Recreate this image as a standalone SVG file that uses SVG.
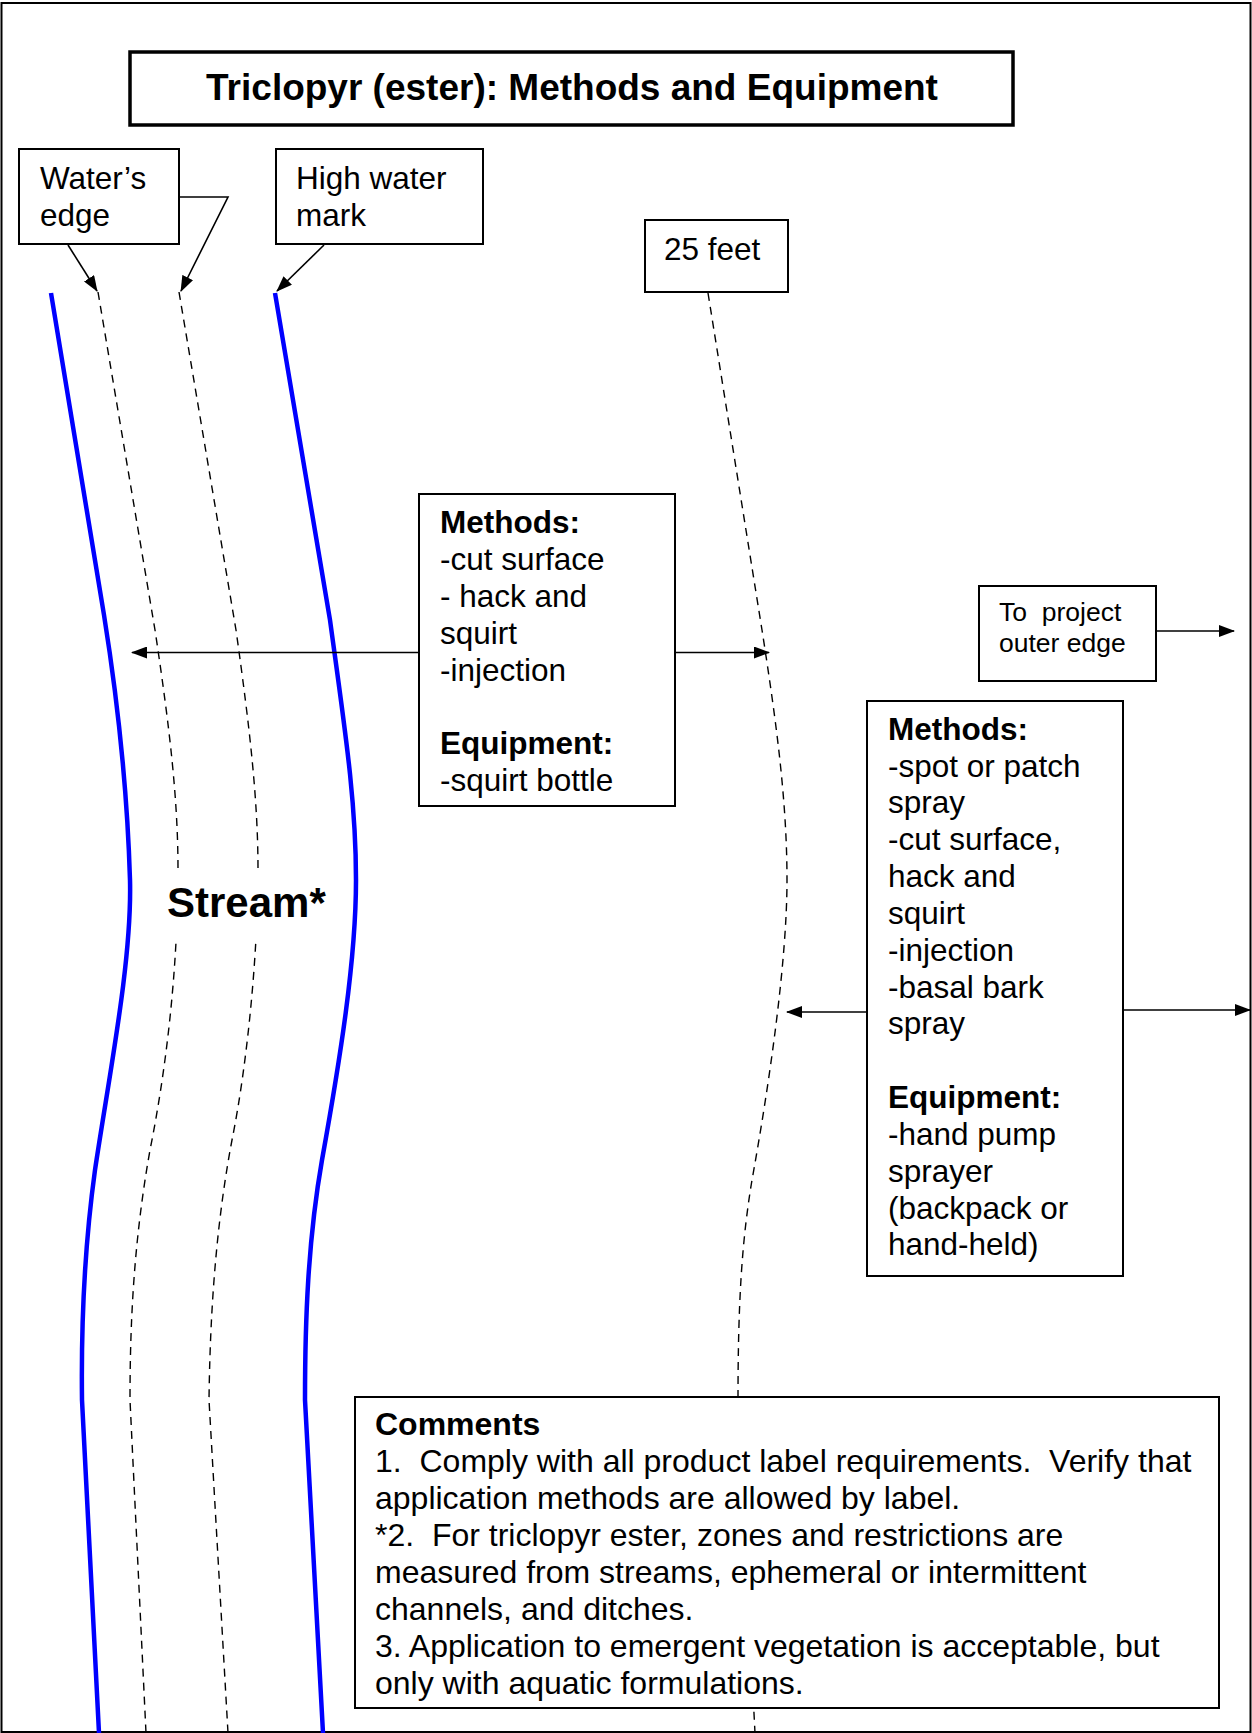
<svg xmlns="http://www.w3.org/2000/svg" width="1252" height="1733" viewBox="0 0 1252 1733">
<defs>
<marker id="ah" markerUnits="userSpaceOnUse" markerWidth="16" markerHeight="12" refX="15" refY="6" orient="auto">
<path d="M0,0 L16,6 L0,12 Z" fill="#000"/>
</marker>
<style>
.box{fill:#fff;stroke:#000;stroke-width:2}
.t{font-family:"Liberation Sans",Arial,sans-serif;font-size:31.5px;fill:#000;white-space:pre}
.b{font-weight:bold}
.blue{fill:none;stroke:#0000ff;stroke-width:4.5}
.dash{fill:none;stroke:#000;stroke-width:1.4;stroke-dasharray:8 6}
.con{fill:none;stroke:#000;stroke-width:1.6}
</style>
</defs>
<rect x="0" y="0" width="1252" height="1733" fill="#fff"/>
<rect x="1.5" y="3" width="1249" height="1729" fill="none" stroke="#000" stroke-width="2"/>

<g id="stream-lines">
<path class="blue" d="M51,293 L104,615 C116,690 127,780 130,880 C132,960 110,1070 95,1170 C84,1250 81,1320 82,1400 L99,1733"/>
<path class="blue" d="M275,293 L330,620 C345,730 356,800 356,880 C356,960 340,1060 322,1160 C308,1240 305,1320 305,1400 L323,1733"/>
<path class="dash" d="M98,292 L155,630 C170,730 178,800 178,870 C178,950 170,1050 150,1150 C134,1240 130,1320 130,1400 L146,1733"/>
<path class="dash" d="M179,292 L236,630 C250,730 258,800 258,870 C258,950 248,1060 232,1140 C215,1230 210,1320 209,1400 L228,1733"/>
<path class="dash" d="M708,293 L762,630 C776,720 787,800 787,880 C787,960 770,1080 752,1180 C742,1240 738,1300 738,1400 L755,1733"/>
</g>

<g id="stream-label">
<rect x="165" y="868" width="165" height="74" fill="#fff"/>
<text class="t b" x="167" y="917" style="font-size:42px">Stream*</text>
</g>

<g id="connectors">
<path class="con" d="M68,245 L97,291" marker-end="url(#ah)"/>
<path class="con" d="M179,197 L228,197 L181,291" marker-end="url(#ah)"/>
<path class="con" d="M324,245 L277,291" marker-end="url(#ah)"/>
<path class="con" d="M419,652.5 L132,652.5" marker-end="url(#ah)"/>
<path class="con" d="M675,652.5 L769,652.5" marker-end="url(#ah)"/>
<path class="con" d="M1156,631 L1234,631" marker-end="url(#ah)"/>
<path class="con" d="M867,1012 L787,1012" marker-end="url(#ah)"/>
<path class="con" d="M1123,1010 L1250,1010" marker-end="url(#ah)"/>
</g>

<g id="title">
<rect x="130" y="52" width="883" height="73" fill="#fff" stroke="#000" stroke-width="3.5"/>
<text class="t b" x="572" y="100" text-anchor="middle" style="font-size:37px">Triclopyr (ester): Methods and Equipment</text>
</g>

<g id="waters-edge">
<rect class="box" x="19" y="149" width="160" height="95"/>
<text class="t" x="40" y="189">Water’s</text>
<text class="t" x="40" y="226">edge</text>
</g>

<g id="high-water-mark">
<rect class="box" x="276" y="149" width="207" height="95"/>
<text class="t" x="296" y="189">High water</text>
<text class="t" x="296" y="226">mark</text>
</g>

<g id="feet25">
<rect class="box" x="645" y="220" width="143" height="72"/>
<text class="t" x="664" y="260">25 feet</text>
</g>

<g id="methods-inner">
<rect class="box" x="419" y="494" width="256" height="312"/>
<text class="t b" x="440" y="533">Methods:</text>
<text class="t" x="440" y="570">-cut surface</text>
<text class="t" x="440" y="607">- hack and</text>
<text class="t" x="440" y="644">squirt</text>
<text class="t" x="440" y="681">-injection</text>
<text class="t b" x="440" y="754">Equipment:</text>
<text class="t" x="440" y="791">-squirt bottle</text>
</g>

<g id="project-edge">
<rect class="box" x="979" y="586" width="177" height="95"/>
<text class="t" x="999" y="621" style="font-size:26.5px">To  project</text>
<text class="t" x="999" y="652" style="font-size:26.5px">outer edge</text>
</g>

<g id="methods-outer">
<rect class="box" x="867" y="701" width="256" height="575"/>
<text class="t b" x="888" y="740">Methods:</text>
<text class="t" x="888" y="777">-spot or patch</text>
<text class="t" x="888" y="813">spray</text>
<text class="t" x="888" y="850">-cut surface,</text>
<text class="t" x="888" y="887">hack and</text>
<text class="t" x="888" y="924">squirt</text>
<text class="t" x="888" y="961">-injection</text>
<text class="t" x="888" y="998">-basal bark</text>
<text class="t" x="888" y="1034">spray</text>
<text class="t b" x="888" y="1108">Equipment:</text>
<text class="t" x="888" y="1145">-hand pump</text>
<text class="t" x="888" y="1182">sprayer</text>
<text class="t" x="888" y="1219">(backpack or</text>
<text class="t" x="888" y="1255">hand-held)</text>
</g>

<g id="comments">
<rect class="box" x="355" y="1397" width="864" height="311"/>
<text class="t b" x="375" y="1435" style="font-size:32px">Comments</text>
<text class="t" x="375" y="1472" style="font-size:32px">1.  Comply with all product label requirements.  Verify that</text>
<text class="t" x="375" y="1509" style="font-size:32px">application methods are allowed by label.</text>
<text class="t" x="375" y="1546" style="font-size:32px">*2.  For triclopyr ester, zones and restrictions are</text>
<text class="t" x="375" y="1583" style="font-size:32px">measured from streams, ephemeral or intermittent</text>
<text class="t" x="375" y="1620" style="font-size:32px">channels, and ditches.</text>
<text class="t" x="375" y="1657" style="font-size:32px">3. Application to emergent vegetation is acceptable, but</text>
<text class="t" x="375" y="1694" style="font-size:32px">only with aquatic formulations.</text>
</g>
</svg>
